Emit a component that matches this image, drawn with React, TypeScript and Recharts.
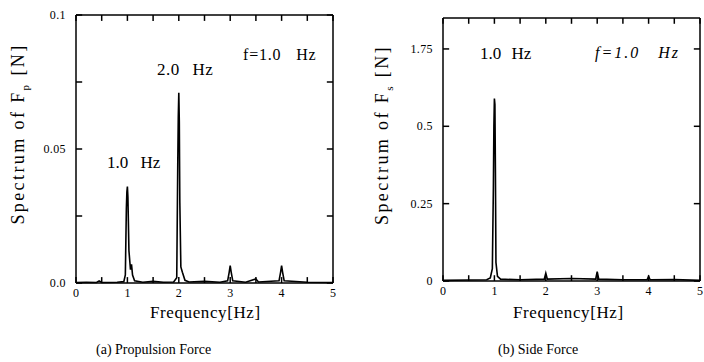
import React from "react";
import { LineChart, Line, XAxis, YAxis, ReferenceLine } from "recharts";

// frequency [Hz] -> spectrum [N]
const freqA = [0, 0.2, 0.4, 0.45, 0.5, 0.8, 0.93, 0.96, 0.98, 0.99, 1.0, 1.01, 1.03, 1.06, 1.08, 1.1, 1.14, 1.3, 1.5, 1.7, 1.9, 1.96, 1.98, 1.99, 2.0, 2.01, 2.02, 2.04, 2.07, 2.12, 2.2, 2.5, 2.8, 2.95, 2.98, 3.0, 3.02, 3.05, 3.3, 3.5, 3.55, 3.95, 3.98, 4.0, 4.02, 4.05, 4.5, 5];
const specA = [0.0002, 0.0003, 0.0002, 0.0008, 0.0002, 0.0003, 0.0005, 0.003, 0.028, 0.034, 0.036, 0.032, 0.012, 0.005, 0.007, 0.003, 0.0008, 0.0003, 0.0006, 0.0003, 0.0004, 0.002, 0.045, 0.062, 0.071, 0.06, 0.03, 0.006, 0.004, 0.001, 0.0004, 0.0006, 0.0003, 0.0008, 0.004, 0.0065, 0.004, 0.0008, 0.0003, 0.0015, 0.0004, 0.0008, 0.004, 0.0065, 0.004, 0.0008, 0.0003, 0.0002];

const freqB = [0, 0.5, 0.85, 0.92, 0.96, 0.98, 0.99, 1.0, 1.01, 1.02, 1.03, 1.06, 1.12, 1.5, 1.97, 2.0, 2.03, 2.5, 2.97, 3.0, 3.03, 3.5, 3.97, 4.0, 4.03, 4.5, 5];
const specB = [0.002, 0.003, 0.004, 0.01, 0.04, 0.3, 0.5, 0.59, 0.57, 0.35, 0.06, 0.015, 0.006, 0.004, 0.006, 0.025, 0.006, 0.008, 0.006, 0.03, 0.006, 0.004, 0.004, 0.015, 0.004, 0.005, 0.002];

const xTicks = [0, 0.5, 1, 1.5, 2, 2.5, 3, 3.5, 4, 4.5, 5];
const xTickLabels = ["0", "", "1", "", "2", "", "3", "", "4", "", "5"];

const yTicksA = [0, 0.025, 0.05, 0.075, 0.1];
const yTickLabelsA = ["0.0", "", "0.05", "", "0.1"];
const yTicksB = [0, 0.25, 0.5, 0.75];
const yTickLabelsB = ["0", "0.25", "0.5", "1.75"];

const FONT = '"Liberation Serif", "DejaVu Serif", serif';
const X_MAX = 5;
// inward tick length, as a share of each axis span (~6px)
const TICK_Y_FRAC = 0.022;
const TICK_X_LEN = 0.12;

const toRows = (xs: number[], ys: number[]) => xs.map((f, i) => ({ f, v: ys[i] }));

function makeTick(side: string, labels?: string[]) {
  return (props: any) => {
    const { x, y, index } = props;
    const label = labels ? labels[index] : "";
    if (!label) return <g />;
    if (side === "bottom") {
      return <text x={x} y={y + 6} textAnchor="middle" fontSize={12} fontFamily={FONT} fill="#000">{label}</text>;
    }
    return <text x={x - 2} y={y} dy={4} textAnchor="end" fontSize={12} letterSpacing={0.4} fontFamily={FONT} fill="#000">{label}</text>;
  };
}

function Panel({ data, yTicks, yLabels, yMax, margin, yWidth }: any) {
  const axis = { stroke: "#000", strokeWidth: 1.5 };
  const common = { axisLine: axis, tickLine: false, tickSize: -6, tickMargin: 14, interval: 0 as const };
  const tl = yMax * TICK_Y_FRAC;
  const mark = (key: string, a: any, b: any) => (
    <ReferenceLine key={key} xAxisId="b" yAxisId="l" segment={[a, b]} stroke="#000" strokeWidth={1.5} />
  );
  return (
    <LineChart width={352} height={362} data={data} margin={margin}>
      <XAxis xAxisId="b" dataKey="f" type="number" domain={[0, X_MAX]} ticks={xTicks} tick={makeTick("bottom", xTickLabels)} height={25} {...common} />
      <XAxis xAxisId="t" dataKey="f" orientation="top" type="number" domain={[0, X_MAX]} ticks={xTicks} tick={false} height={1} {...common} />
      <YAxis yAxisId="l" dataKey="v" type="number" domain={[0, yMax]} ticks={yTicks} tick={makeTick("left", yLabels)} width={yWidth} {...common} />
      <YAxis yAxisId="r" dataKey="v" orientation="right" type="number" domain={[0, yMax]} ticks={yTicks} tick={false} width={1} {...common} />
      {xTicks.map((t) => mark(`xb${t}`, { x: t, y: 0 }, { x: t, y: tl }))}
      {xTicks.map((t) => mark(`xt${t}`, { x: t, y: yMax }, { x: t, y: yMax - tl }))}
      {yTicks.map((t: number) => mark(`yl${t}`, { x: 0, y: t }, { x: TICK_X_LEN, y: t }))}
      {yTicks.map((t: number) => mark(`yr${t}`, { x: X_MAX, y: t }, { x: X_MAX - TICK_X_LEN, y: t }))}
      <Line
        xAxisId="b"
        yAxisId="l"
        dataKey="v"
        type="linear"
        stroke="#000"
        strokeWidth={1.6}
        dot={false}
        isAnimationActive={false}
      />
    </LineChart>
  );
}

const txt = (left: number, top: number, size: number, extra: any = {}) => ({
  position: "absolute" as const,
  left,
  top,
  fontSize: size,
  fontFamily: FONT,
  color: "#000",
  whiteSpace: "nowrap" as const,
  lineHeight: 1,
  ...extra,
});

const rot = (cx: number, cy: number, size: number) =>
  txt(cx, cy, size, { transform: "translate(-50%, -50%) rotate(-90deg)", letterSpacing: 2.4 });

export default function App() {
  return (
    <div style={{ position: "absolute", left: 0, top: 0, width: 704, height: 362, background: "#fff", overflow: "hidden" }}>
      <div style={{ position: "absolute", left: 0, top: 0 }}>
        <Panel
          data={toRows(freqA, specA)}
          yTicks={yTicksA}
          yLabels={yTickLabelsA}
          yMax={0.1}
          yWidth={40}
          margin={{ top: 14, right: 18, bottom: 54, left: 36 }}
        />
      </div>
      <div style={{ position: "absolute", left: 352, top: 0 }}>
        <Panel
          data={toRows(freqB, specB)}
          yTicks={yTicksB}
          yLabels={yTickLabelsB}
          yMax={0.85}
          yWidth={40}
          margin={{ top: 17, right: 3, bottom: 56, left: 51 }}
        />
      </div>

      <div style={rot(20, 134, 18)}>
        Spectrum of F<sub style={{ fontSize: 11 }}>p</sub> [N]
      </div>
      <div style={rot(384, 135, 18)}>
        Spectrum of F<sub style={{ fontSize: 11 }}>s</sub> [N]
      </div>

      <div style={txt(150, 304, 17, { letterSpacing: 0.6 })}>Frequency[Hz]</div>
      <div style={txt(513, 304, 17, { letterSpacing: 0.6 })}>Frequency[Hz]</div>

      <div style={txt(96, 343, 14)}>(a) Propulsion Force</div>
      <div style={txt(498, 343, 14)}>(b) Side Force</div>

      <div style={txt(107, 154, 17, { wordSpacing: 8 })}>1.0 Hz</div>
      <div style={txt(157, 61, 17, { wordSpacing: 8, letterSpacing: 0.5 })}>2.0 Hz</div>
      <div style={txt(243, 47, 16, { wordSpacing: 10, letterSpacing: 0.8 })}>f=1.0 Hz</div>

      <div style={txt(480, 45, 17, { wordSpacing: 6 })}>1.0 Hz</div>
      <div style={txt(595, 45, 16, { wordSpacing: 12, letterSpacing: 2, fontStyle: "italic" })}>f=1.0 Hz</div>
    </div>
  );
}
